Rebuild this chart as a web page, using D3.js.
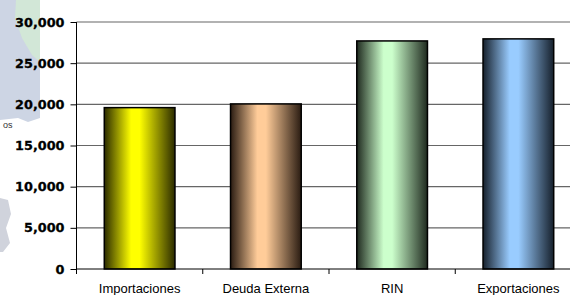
<!DOCTYPE html>
<html><head><meta charset="utf-8">
<script src="https://cdn.jsdelivr.net/npm/d3@7/dist/d3.min.js"></script>
<style>html,body{margin:0;padding:0;background:#fff;overflow:hidden}</style>
</head><body>
<svg id="c" width="570" height="295"></svg>
<script>
const categories = ["Importaciones", "Deuda Externa", "RIN", "Exportaciones"];
const values = [19600, 20050, 27700, 27950];
const tickValues = [0, 5000, 10000, 15000, 20000, 25000, 30000];
const centerColors = ["#ffff00", "#ffcc99", "#ccffcc", "#99ccff"];
const edgeColors = ["#2b2b00", "#2a1c12", "#1f2a1f", "#16202c"];

const svg = d3.select("#c");
const m = {l: 76.5, t: 22, b: 269, r: 581.5};

// faint background watermark on the left
const bg = svg.append("g");
bg.append("path").attr("d","M0,0 L40,0 L40,118 L28,122 L18,118 L0,120 Z").attr("fill","#cdd5e4");
bg.append("path").attr("d","M16,0 L40,0 L40,62 L32,55 L22,38 L15,18 Z").attr("fill","#d3ebd3").attr("opacity",0.8);
bg.append("path").attr("d","M0,198 L8,200 L11,214 L6,228 L10,243 L3,252 L0,252 Z").attr("fill","#d0d3dc");
bg.append("text").attr("x",3).attr("y",128).attr("font-family","Liberation Sans, Arial").attr("font-size",9).attr("fill","#333").text("os");

const x = d3.scaleBand().domain(categories).range([m.l, m.r]).paddingInner(0.44).paddingOuter(0.22);
const y = d3.scaleLinear().domain([0, 30000]).range([m.b, m.t]);

const defs = svg.append("defs");
categories.forEach((c, i) => {
  const g = defs.append("linearGradient").attr("id", "g" + i).attr("x1", "0").attr("x2", "1").attr("y1", "0").attr("y2", "0");
  g.append("stop").attr("offset", "0").attr("stop-color", edgeColors[i]);
  g.append("stop").attr("offset", "0.38").attr("stop-color", centerColors[i]);
  g.append("stop").attr("offset", "0.5").attr("stop-color", centerColors[i]);
  g.append("stop").attr("offset", "1").attr("stop-color", edgeColors[i]);
});

// gridlines
svg.append("g").selectAll("line").data(tickValues.filter(d => d > 0)).join("line")
  .attr("x1", m.l).attr("x2", 570).attr("y1", d => y(d)).attr("y2", d => y(d))
  .attr("stroke", "#666").attr("stroke-width", 1.2);

// bars
svg.append("g").selectAll("rect").data(values).join("rect")
  .attr("x", (d, i) => x(categories[i])).attr("width", x.bandwidth())
  .attr("y", d => y(d)).attr("height", d => y(0) - y(d))
  .attr("fill", (d, i) => `url(#g${i})`).attr("stroke", "#000").attr("stroke-width", 1.5);

// y axis
const ya = d3.axisLeft(y).tickValues(tickValues).tickSize(6).tickPadding(6).tickFormat(d3.format(","));
const yg = svg.append("g").attr("transform", `translate(${m.l},0)`).call(ya);
yg.select(".domain").remove();
yg.selectAll("line").attr("stroke", "#000");
yg.selectAll("text").attr("font-family", "DejaVu Sans, Verdana").attr("font-weight", "bold").attr("font-size", 12.8).attr("fill", "#000").attr("stroke", "#000").attr("stroke-width", 0.3);
svg.append("line").attr("x1", m.l).attr("x2", m.l).attr("y1", m.t).attr("y2", m.b + 4).attr("stroke", "#000");

// x axis
svg.append("line").attr("x1", m.l).attr("x2", 570).attr("y1", m.b).attr("y2", m.b).attr("stroke", "#000");
const bounds = d3.range(categories.length + 1).map(i => m.l + i * (m.r - m.l) / categories.length);
svg.append("g").selectAll("line").data(bounds).join("line")
  .attr("x1", d => d).attr("x2", d => d).attr("y1", m.b).attr("y2", m.b + 5).attr("stroke", "#000");
svg.append("g").selectAll("text").data(categories).join("text")
  .attr("x", d => x(d) + x.bandwidth() / 2).attr("y", 293).attr("text-anchor", "middle")
  .attr("font-family", "Liberation Sans, Arial").attr("font-size", 13).attr("fill", "#000").text(d => d);
</script>
</body></html>
